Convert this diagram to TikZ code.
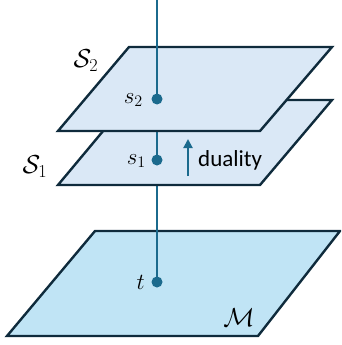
\RequirePackage{fix-cm}
\documentclass[tikz,border=0pt]{standalone}
\usepackage{fontspec}
\newfontfamily\labelfont{Carlito}
\usetikzlibrary{arrows.meta}
\definecolor{edgec}{HTML}{0F2B3C}
\definecolor{linec}{HTML}{1B6A8D}
\definecolor{sfill}{HTML}{DAE8F6}
\definecolor{mfill}{HTML}{C0E4F5}
\tikzset{
  plane/.style={draw=edgec, line width=2.4pt, line join=miter},
  conn/.style={draw=linec, line width=2pt},
  pt/.style={circle, fill=linec, inner sep=0pt, minimum size=11pt},
  lbl/.style={inner sep=0pt, font=\fontsize{23}{26}\selectfont},
  biglbl/.style={inner sep=0pt, font=\fontsize{26}{28}\selectfont}
}
\begin{document}
\begin{tikzpicture}[x=1pt, y=-1pt]
\useasboundingbox (0,0) rectangle (341,345);
% M plane
\begin{scope}
\clip (0,0) rectangle (341,345);
\draw[plane, fill=mfill] (7,336) -- (258,336) -- (340,231) -- (95,231) -- cycle;
\end{scope}
% vertical line from S1 to t
\coordinate (s1bot) at (157,185);
\node[pt] (t) at (157,282) {};
\draw[conn] (s1bot) -- (t.center);
% S1 plane
\draw[plane, fill=sfill] (58,185) -- (260,185) -- (332,100) -- (129,100) -- cycle;
\node[pt] (s1) at (157,160) {};
\coordinate (s2bot) at (157,131);
\draw[conn] (s2bot) -- (s1.center);
% S2 plane
\draw[plane, fill=sfill] (58,131) -- (260,131) -- (332,47) -- (129,47) -- cycle;
\coordinate (top) at (157,0);
\node[pt] (s2) at (157,99) {};
\draw[conn] (top) -- (s2.center);
% duality arrow
\coordinate (da) at (188,176);
\coordinate (db) at (188,139);
\draw[conn, -{Triangle[length=9pt, width=9pt]}] (da) -- (db);
\node[anchor=west, inner sep=0pt, font=\labelfont\fontsize{23}{26}\selectfont] (dual) at (198,160) {duality};
% labels
\node[lbl, anchor=east] (ls2) at (143,100) {$s_2$};
\node[lbl, anchor=east] (ls1) at (146,161) {$s_1$};
\node[lbl, anchor=east] (lt) at (145,282) {$t$};
\node[biglbl] (LS2) at (86,61) {$\mathcal{S}_2$};
\node[biglbl] (LS1) at (35,167) {$\mathcal{S}_1$};
\node[biglbl] (LM) at (239,318) {$\mathcal{M}$};
\end{tikzpicture}
\end{document}
